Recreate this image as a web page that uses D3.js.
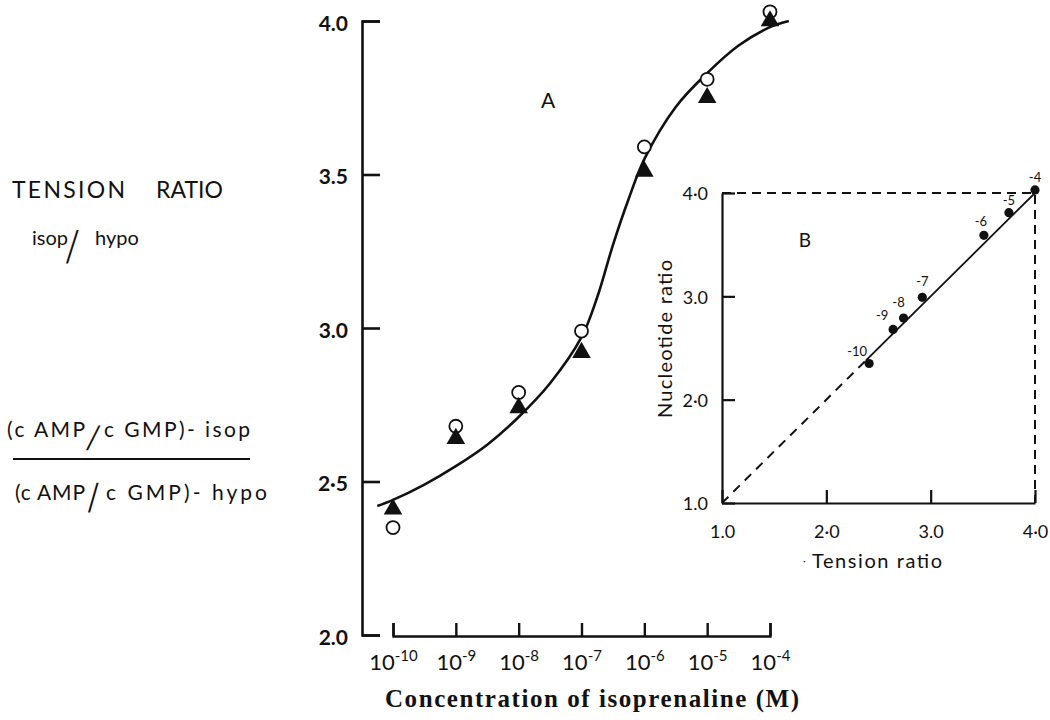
<!DOCTYPE html>
<html><head><meta charset="utf-8">
<script src="https://cdn.jsdelivr.net/npm/d3@7"></script>
<style>
body{margin:0;background:#fff}
svg text{fill:#111}
</style>
</head><body>
<svg id="chart" width="1050" height="720" font-family="Lato, 'Open Sans', sans-serif"></svg>
<script>
// ---- data ----
const concExponents = [-10, -9, -8, -7, -6, -5, -4];
const tensionRatio = [2.41, 2.64, 2.74, 2.92, 3.51, 3.75, 4.00];     // filled triangles
const nucleotideRatio = [2.35, 2.68, 2.79, 2.99, 3.59, 3.81, 4.03];  // open circles
const curveLogConc = [-10.25, -10, -9.5, -9, -8.5, -8, -7.5, -7, -6.75, -6.5, -6.25, -6, -5.5, -5, -4.5, -4, -3.7];
const curveRatio   = [2.42, 2.44, 2.49, 2.55, 2.62, 2.71, 2.82, 2.97, 3.10, 3.27, 3.42, 3.55, 3.72, 3.83, 3.92, 3.98, 4.00];
const mainYTicks = [2.0, 2.5, 3.0, 3.5, 4.0];
const mainYLabels = ["2.0", "2·5", "3.0", "3.5", "4.0"];
const insetTicks = [1, 2, 3, 4];
const insetTickLabels = ["1.0", "2·0", "3.0", "4·0"];
const insetPointLabels = ["-10", "-9", "-8", "-7", "-6", "-5", "-4"];
const fitLine = [1.0, 2.38, 4.0];

const svg = d3.select("#chart");
const ink = "#111";
const sans = "Lato, 'Open Sans', sans-serif";

// ---- main panel A ----
const x = d3.scaleLinear().domain([-10, -4]).range([393, 770]);
const y = d3.scaleLinear().domain([2, 4]).range([635, 21]);

const yAx = svg.append("g").attr("transform", "translate(362,0)")
  .call(d3.axisLeft(y).tickValues(mainYTicks).tickSizeInner(-18).tickSizeOuter(-18)
    .tickPadding(14).tickFormat((d, i) => mainYLabels[i]));
yAx.select(".domain").attr("stroke", ink).attr("stroke-width", 2.6);
yAx.selectAll(".tick line").attr("stroke", ink).attr("stroke-width", 2.6);
yAx.selectAll(".tick text").attr("font-size", 21).attr("font-weight", "bold")
  .attr("font-family", sans).attr("fill", ink).attr("dy", "0.45em");

const xAx = svg.append("g").attr("transform", "translate(0,636)")
  .call(d3.axisBottom(x).tickValues(concExponents).tickSizeInner(-13).tickSizeOuter(-13).tickFormat(""));
xAx.select(".domain").attr("stroke", ink).attr("stroke-width", 2.4);
xAx.selectAll(".tick line").attr("stroke", ink).attr("stroke-width", 2.4);
xAx.selectAll(".tick text").each(function(d) {
  const t = d3.select(this).attr("y", 34).attr("dy", null).attr("font-size", 22)
    .attr("font-family", sans).attr("fill", ink).text(null);
  t.append("tspan").text("10");
  t.append("tspan").attr("font-size", 15).attr("dy", -9).text(String(d));
});

svg.append("text").attr("x", 592).attr("y", 707).attr("text-anchor", "middle")
  .attr("font-family", "'Liberation Serif', 'DejaVu Serif', serif").attr("font-weight", "bold")
  .attr("font-size", 25).attr("textLength", 414).attr("lengthAdjust", "spacing")
  .text("Concentration of isoprenaline (M)");

svg.append("text").attr("x", 548).attr("y", 108).attr("text-anchor", "middle")
  .attr("font-size", 21).text("A");

const curvePts = curveLogConc.map((c, i) => [c, curveRatio[i]]);
svg.append("path").datum(curvePts)
  .attr("d", d3.line().x(d => x(d[0])).y(d => y(d[1])).curve(d3.curveCatmullRom.alpha(0.5)))
  .attr("fill", "none").attr("stroke", ink).attr("stroke-width", 2.6);

svg.append("g").selectAll("circle").data(concExponents).join("circle")
  .attr("cx", d => x(d)).attr("cy", (d, i) => y(nucleotideRatio[i])).attr("r", 6.5)
  .attr("fill", "#fff").attr("stroke", ink).attr("stroke-width", 1.8);

svg.append("g").selectAll("path").data(concExponents).join("path")
  .attr("d", d3.symbol(d3.symbolTriangle, 150))
  .attr("transform", (d, i) => `translate(${x(d)},${y(tensionRatio[i])})`)
  .attr("fill", ink);

// ---- left-side labels ----
const tr = svg.append("text").attr("y", 198).attr("font-size", 23);
tr.append("tspan").attr("x", 12).attr("textLength", 113).attr("lengthAdjust", "spacing").text("TENSION");
tr.append("tspan").attr("x", 150).attr("textLength", 73).attr("lengthAdjust", "spacing").text(" RATIO");

function slash(tx, ty, sy, skew) {
  svg.append("text").attr("transform", `translate(${tx},${ty}) scale(1,${sy}) skewX(${-skew})`)
    .attr("font-family", "'Liberation Sans', sans-serif").attr("font-size", 26).text("/");
}

svg.append("text").attr("x", 32).attr("y", 245).attr("font-size", 20).text("isop");
slash(66, 263, 1.75, 16);
svg.append("text").attr("x", 95).attr("y", 245).attr("font-size", 20).text("hypo");

svg.append("text").attr("x", 7).attr("y", 437).attr("font-size", 21)
  .attr("textLength", 78).attr("lengthAdjust", "spacing").text("(c  AMP");
slash(86, 450, 1.3, 21);
svg.append("text").attr("x", 104).attr("y", 437).attr("font-size", 21)
  .attr("textLength", 146).attr("lengthAdjust", "spacing").text("c  GMP)- isop");

svg.append("line").attr("x1", 13).attr("x2", 250).attr("y1", 459).attr("y2", 459)
  .attr("stroke", ink).attr("stroke-width", 2);

svg.append("text").attr("x", 15).attr("y", 500).attr("font-size", 21)
  .attr("textLength", 70).attr("lengthAdjust", "spacing").text("(c AMP");
slash(88, 512, 1.55, 10);
svg.append("text").attr("x", 106).attr("y", 500).attr("font-size", 21)
  .attr("textLength", 161).attr("lengthAdjust", "spacing").text("c  GMP)- hypo");

// ---- inset panel B ----
const xi = d3.scaleLinear().domain([1, 4]).range([722, 1035]);
const yi = d3.scaleLinear().domain([1, 4]).range([503, 193]);

const yiAx = svg.append("g").attr("transform", "translate(722,0)")
  .call(d3.axisLeft(yi).tickValues(insetTicks).tickSizeInner(-13).tickSizeOuter(0)
    .tickPadding(14).tickFormat((d, i) => insetTickLabels[i]));
const xiAx = svg.append("g").attr("transform", "translate(0,503)")
  .call(d3.axisBottom(xi).tickValues(insetTicks).tickSizeInner(-13).tickSizeOuter(0)
    .tickFormat((d, i) => insetTickLabels[i]));
[yiAx, xiAx].forEach(g => {
  g.select(".domain").attr("stroke", ink).attr("stroke-width", 2.2);
  g.selectAll(".tick line").attr("stroke", ink).attr("stroke-width", 2.2);
  g.selectAll(".tick text").attr("font-size", 18).attr("font-family", sans).attr("fill", ink);
});
yiAx.selectAll(".tick text").attr("dy", "0.38em");
xiAx.selectAll(".tick text").attr("y", 35).attr("dy", null);

svg.append("path")
  .attr("d", d3.line()([[xi(1), yi(4)], [xi(4), yi(4)], [xi(4), yi(1)]]))
  .attr("fill", "none").attr("stroke", ink).attr("stroke-width", 2).attr("stroke-dasharray", "9,6");

svg.append("line").attr("x1", xi(fitLine[0])).attr("y1", yi(fitLine[0]))
  .attr("x2", xi(fitLine[1])).attr("y2", yi(fitLine[1]))
  .attr("stroke", ink).attr("stroke-width", 2).attr("stroke-dasharray", "9,7");
svg.append("line").attr("x1", xi(fitLine[1])).attr("y1", yi(fitLine[1]))
  .attr("x2", xi(fitLine[2])).attr("y2", yi(fitLine[2]))
  .attr("stroke", ink).attr("stroke-width", 1.8);

svg.append("g").selectAll("circle").data(concExponents).join("circle")
  .attr("cx", (d, i) => xi(tensionRatio[i])).attr("cy", (d, i) => yi(nucleotideRatio[i]))
  .attr("r", 4.6).attr("fill", ink);

const labelOffsets = [[-12, -8], [-11, -9], [-5, -11], [0, -11], [-3, -9], [0, -8], [0, -8]];
svg.append("g").selectAll("text").data(insetPointLabels).join("text")
  .attr("x", (d, i) => xi(tensionRatio[i]) + labelOffsets[i][0])
  .attr("y", (d, i) => yi(nucleotideRatio[i]) + labelOffsets[i][1])
  .attr("text-anchor", "middle").attr("font-size", 13).text(d => d);

svg.append("text").attr("x", 805).attr("y", 247).attr("text-anchor", "middle")
  .attr("font-size", 19).text("B");

svg.append("text").attr("x", 803).attr("y", 564).attr("font-size", 10).text("·");
svg.append("text").attr("x", 877).attr("y", 568).attr("text-anchor", "middle")
  .attr("font-size", 20).attr("textLength", 130).attr("lengthAdjust", "spacing").text("Tension  ratio");

svg.append("text").attr("transform", "translate(672,339) rotate(-90)").attr("text-anchor", "middle")
  .attr("font-size", 20).attr("textLength", 158).attr("lengthAdjust", "spacing").text("Nucleotide  ratio");
</script>
</body></html>
